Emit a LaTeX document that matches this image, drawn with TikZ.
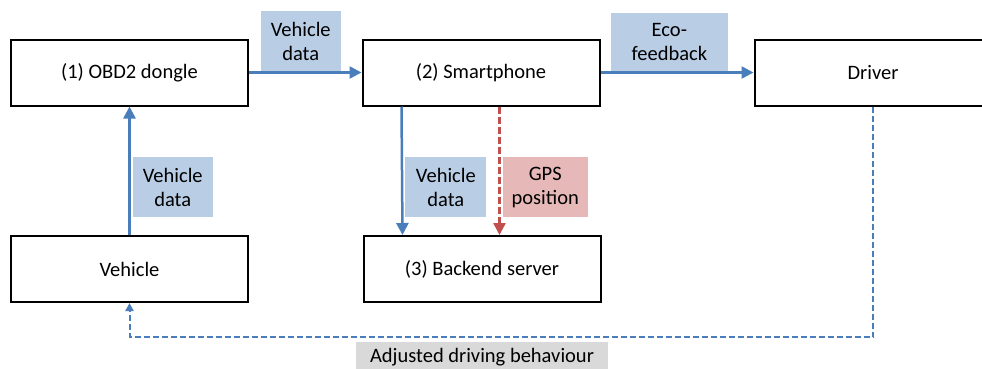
\documentclass[tikz,border=0pt]{standalone}
\usepackage{fontspec}
\setmainfont{Carlito}
\usetikzlibrary{arrows.meta}
\usetikzlibrary{positioning}
\definecolor{flowblue}{RGB}{74,126,187}
\definecolor{flowred}{RGB}{192,80,77}
\definecolor{tagblue}{RGB}{185,205,229}
\definecolor{tagred}{RGB}{230,185,184}
\definecolor{taggrey}{RGB}{217,217,217}

\begin{document}
\begin{tikzpicture}[x=1pt,y=-1pt,
    block/.style={draw,line width=2pt,minimum width=237pt,minimum height=66pt,font=\fontsize{20.5}{24}\selectfont},
    tag/.style={fill=tagblue,align=center,minimum width=80pt,minimum height=60pt,inner sep=0pt,text=black,font=\fontsize{20.5}{24}\selectfont},
    flow/.style={flowblue,line width=2.5pt,-{Triangle[length=12pt,width=12pt]}},
    gps/.style={flowred,line width=2.5pt,dash pattern=on 7pt off 3pt,-{Triangle[length=12pt,width=12pt]}},
    feedback/.style={flowblue,line width=2pt,dash pattern=on 6pt off 3pt,-{Triangle[length=8pt,width=8pt]}}]
    \useasboundingbox (0,0) rectangle (982,368);

    % BLOCKS
    \node[block] (obd) at (129.5,72.5) {(1) OBD2 dongle};
    \node[block] (phone) at (481,72.5) {(2) Smartphone};
    \node[block] (driver) at (873,72.5) {Driver};
    \node[block] (vehicle) at (129.5,269) {Vehicle};
    \node[block] (backend) at (482,269) {(3) Backend server};

    % DATA FLOWS
    \draw[flow] (vehicle.north) -- (obd.south)
        node[tag,pos=0.37,anchor=west,xshift=2pt] (vdata) {Vehicle\\data};
    \draw[flow] (obd.east) -- (phone.west)
        node[tag,pos=0.46,anchor=south] (odata) {Vehicle\\data};
    \draw[flow] (phone.east) -- (driver.west)
        node[tag,pos=0.45,anchor=south,minimum width=117pt,minimum height=58pt] (eco) {Eco-\\feedback};
    \draw[flow] ([xshift=40pt]phone.south west) -- ([xshift=40pt]backend.north west)
        node[tag,pos=0.63,anchor=west,xshift=2pt,minimum width=81pt] (pdata) {Vehicle\\data};
    \draw[gps] ([xshift=138pt]phone.south west) -- ([xshift=137pt]backend.north west)
        node[tag,fill=tagred,pos=0.63,anchor=west,xshift=2pt,minimum width=85pt] (gpspos) {GPS\\position};

    % FEEDBACK LOOP
    \draw[feedback] (driver.south) -- ++(0,230.5) -| (vehicle.south);
    \node[tag,fill=taggrey,anchor=north,minimum width=252pt,minimum height=30pt] (adjust) at (482,342) {Adjusted driving behaviour};
\end{tikzpicture}
\end{document}
